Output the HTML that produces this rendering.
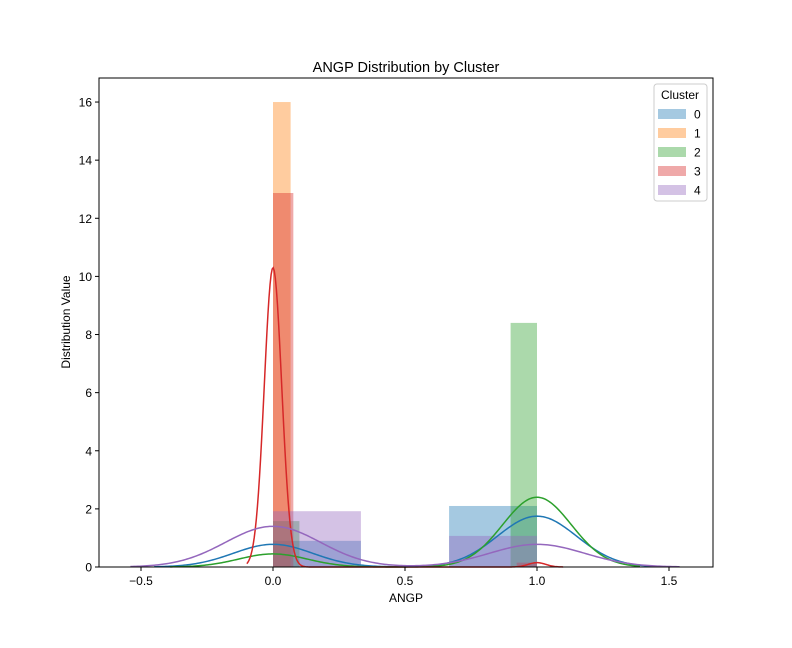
<!DOCTYPE html>
<html><head><meta charset="utf-8"><style>
body{margin:0;background:#fff}
svg{display:block;font-family:"Liberation Sans","DejaVu Sans",sans-serif}
</style></head><body>
<svg id="chart" width="792" height="648">
<rect width="792" height="648" fill="#fff"/>
<g id="bars"></g>
<g id="lines"></g>
<g id="axes"></g>
<text x="406" y="72" font-size="14.5" text-anchor="middle">ANGP Distribution by Cluster</text>
<text x="406" y="602" font-size="12" text-anchor="middle">ANGP</text>
<text transform="translate(70,322) rotate(-90)" font-size="12" text-anchor="middle">Distribution Value</text>
<g id="legend"></g>
</svg>
<script>
const clusters=["0","1","2","3","4"];
const colors=["#1f77b4","#ff7f0e","#2ca02c","#d62728","#9467bd"];
// histogram bins per cluster: [start,end,height]
const hist0=[[0,0.333,0.9],[0.667,1.0,2.1]];
const hist1=[[0,0.0667,16]];
const hist2=[[0,0.1,1.58],[0.9,1.0,8.4]];
const hist3=[[0,0.077,12.87],[0.923,1.0,0.15]];
const hist4=[[0,0.333,1.92],[0.667,1.0,1.07]];
const hists=[hist0,hist1,hist2,hist3,hist4];
// kde: peak values at x=0 and x=1, bandwidths
const kdeCenters=[0,1];
const kdePeaks0=[0.78,1.75];
const kdePeaks2=[0.45,2.4];
const kdePeaks3=[10.3,0.15];
const kdePeaks4=[1.4,0.78];
const kdePeaks=[kdePeaks0,null,kdePeaks2,kdePeaks3,kdePeaks4];
const kdeBw=[0.15,0,0.13,0.033,0.18];
const xTicks=[-0.5,0,0.5,1.0,1.5];
const xTickLabels=["−0.5","0.0","0.5","1.0","1.5"];
const yTicks=[0,2,4,6,8,10,12,14,16];

const L=99,R=713,T=78,B=567;
const X=v=>273+v*264;
const Y=v=>567-v*29.06;
const NS="http://www.w3.org/2000/svg";
function mk(tag,attrs,parent){const e=document.createElementNS(NS,tag);for(const k in attrs)e.setAttribute(k,attrs[k]);parent.appendChild(e);return e;}
const bars=document.getElementById('bars'),lines=document.getElementById('lines'),axes=document.getElementById('axes'),legend=document.getElementById('legend');

hists.forEach((h,ci)=>{h.forEach((b,bi)=>{
  const r=mk('rect',{x:X(b[0]),y:Y(b[2]),width:X(b[1])-X(b[0]),height:Y(0)-Y(b[2]),fill:colors[ci],'fill-opacity':0.4},bars);
  
  
});});

kdePeaks.forEach((pk,ci)=>{
  if(!pk)return;
  const bw=kdeBw[ci];const x0=-3*bw,x1=1+3*bw;let d="";
  for(let i=0;i<=300;i++){const x=x0+(x1-x0)*i/300;let y=0;
    kdeCenters.forEach((c,k)=>{y+=pk[k]*Math.exp(-0.5*((x-c)/bw)**2);});
    d+=(i?"L":"M")+X(x).toFixed(2)+","+Y(y).toFixed(2);}
  const p=mk('path',{d:d,fill:"none",stroke:colors[ci],'stroke-width':1.5},lines);
  
  
});

const frame=mk('rect',{x:L,y:T,width:R-L,height:B-T,fill:"none",stroke:"#000",'stroke-width':1},axes);


xTicks.forEach((v,i)=>{
  mk('line',{x1:X(v),x2:X(v),y1:B,y2:B+4,stroke:"#000"},axes);
  const t=mk('text',{x:X(v),y:B+18,'font-size':12,'text-anchor':'middle'},axes);t.textContent=xTickLabels[i];
  
  
});
yTicks.forEach(v=>{
  mk('line',{x1:L-4,x2:L,y1:Y(v),y2:Y(v),stroke:"#000"},axes);
  const t=mk('text',{x:L-7,y:Y(v)+4.5,'font-size':12,'text-anchor':'end'},axes);t.textContent=v;
  
  
});

mk('rect',{x:654,y:84,width:53,height:117,rx:3,fill:"#fff",'fill-opacity':0.8,stroke:"#ccc"},legend);
const lt=mk('text',{x:680,y:99,'font-size':12,'text-anchor':'middle'},legend);lt.textContent="Cluster";


clusters.forEach((c,i)=>{
  const y=114+i*19;
  const g=mk('g',{},legend);
  
  
  mk('rect',{x:658,y:y-5,width:28,height:10,fill:colors[i],'fill-opacity':0.4},g);
  const t=mk('text',{x:694,y:y+4.5,'font-size':12},g);t.textContent=c;
});
</script>
</body></html>
